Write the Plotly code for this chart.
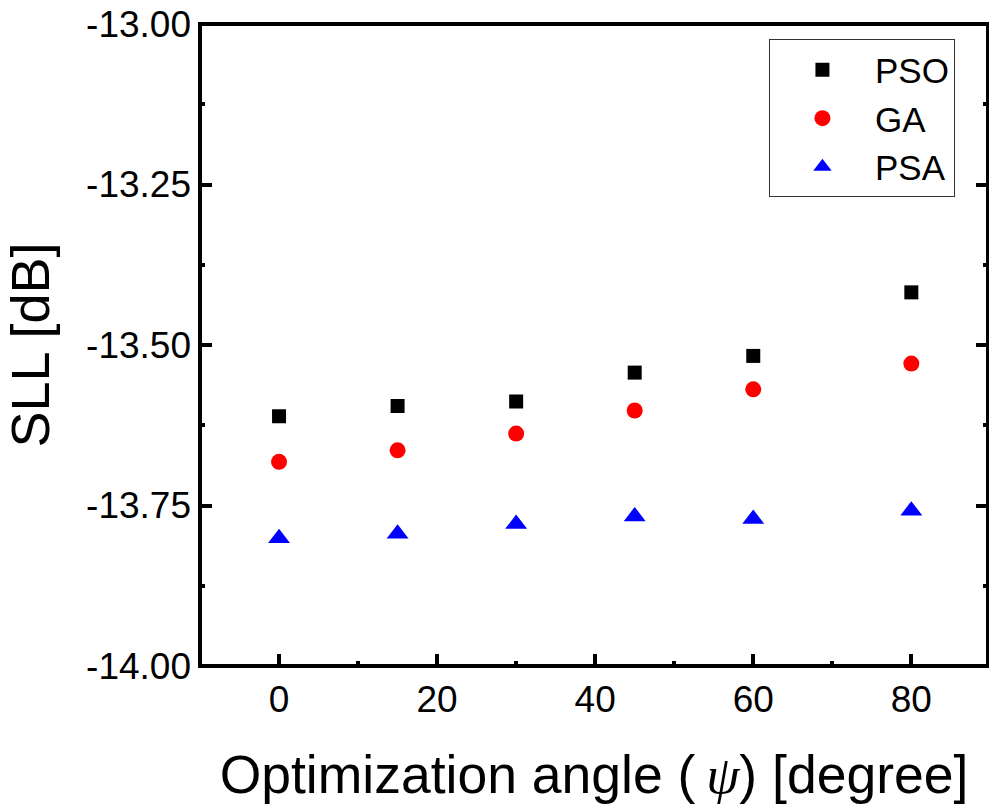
import plotly.graph_objects as go

# Optimization angle (degrees)
angles = [0, 15, 30, 45, 60, 80]

# Side-lobe level (dB) for each optimizer
sll_pso = [-13.611, -13.595, -13.588, -13.543, -13.517, -13.418]
sll_ga = [-13.682, -13.664, -13.638, -13.602, -13.569, -13.529]
sll_psa = [-13.801, -13.794, -13.779, -13.767, -13.771, -13.758]

y_ticks = [-14.00, -13.75, -13.50, -13.25, -13.00]
y_tick_text = ["-14.00", "-13.75", "-13.50", "-13.25", "-13.00"]
x_ticks = [0, 20, 40, 60, 80]

FONT = "Arial, 'Liberation Sans', sans-serif"
SERIF = "'Liberation Serif', 'Times New Roman', serif"

fig = go.Figure()
fig.add_trace(go.Scatter(
    x=angles, y=sll_pso, mode="markers", name="PSO",
    marker=dict(symbol="square", size=14, color="black"),
))
fig.add_trace(go.Scatter(
    x=angles, y=sll_ga, mode="markers", name="GA",
    marker=dict(symbol="circle", size=16, color="#ff0000"),
))
fig.add_trace(go.Scatter(
    x=angles, y=sll_psa, mode="markers", name="PSA",
    marker=dict(symbol="triangle-up", size=19, color="#0000ff"),
))

# frame around the plotting area
fig.add_shape(type="rect", xref="paper", yref="paper", x0=0, y0=0, x1=1, y1=1,
              line=dict(color="black", width=4), layer="above")

x_title = ("Optimization angle (\u2009<span style=\"font-family:" + SERIF + "\"><i>ψ</i></span>)"
           " [degree]")

fig.update_layout(
    width=989, height=806,
    margin=dict(l=200, r=1, t=24, b=140),
    paper_bgcolor="white", plot_bgcolor="white",
    font=dict(family=FONT, size=37, color="black"),
    showlegend=True,
    legend=dict(
        x=0.722, y=0.976, xanchor="left", yanchor="top",
        bordercolor="#333333", borderwidth=1, bgcolor="white",
        font=dict(size=35, family=FONT), itemwidth=95,
    ),
    xaxis=dict(
        range=[-10, 89.7], showline=False, showgrid=False, zeroline=False,
        tickmode="array", tickvals=x_ticks,
        ticks="inside", ticklen=12, tickwidth=4, tickcolor="black",
        minor=dict(ticks="inside", ticklen=5, tickwidth=4, tickcolor="black",
                   tickmode="array", tickvals=[10, 30, 50, 70]),
        tickfont=dict(size=37, family=FONT),
        ticklabelstandoff=8,
        title=dict(text=x_title, font=dict(size=53.5, family=FONT), standoff=36),
    ),
    yaxis=dict(
        range=[-14, -13], showline=False, showgrid=False, zeroline=False,
        tickmode="array", tickvals=y_ticks, ticktext=y_tick_text,
        ticks="inside", ticklen=12, tickwidth=4, tickcolor="black",
        mirror="ticks",
        minor=dict(ticks="inside", ticklen=5, tickwidth=4, tickcolor="black",
                   tickmode="array", tickvals=[-13.875, -13.625, -13.375, -13.125]),
        tickfont=dict(size=37, family=FONT),
        ticklabelstandoff=8,
        title=dict(text="SLL [dB]", font=dict(size=54, family=FONT), standoff=20),
    ),
)

fig.write_html("out.html")
